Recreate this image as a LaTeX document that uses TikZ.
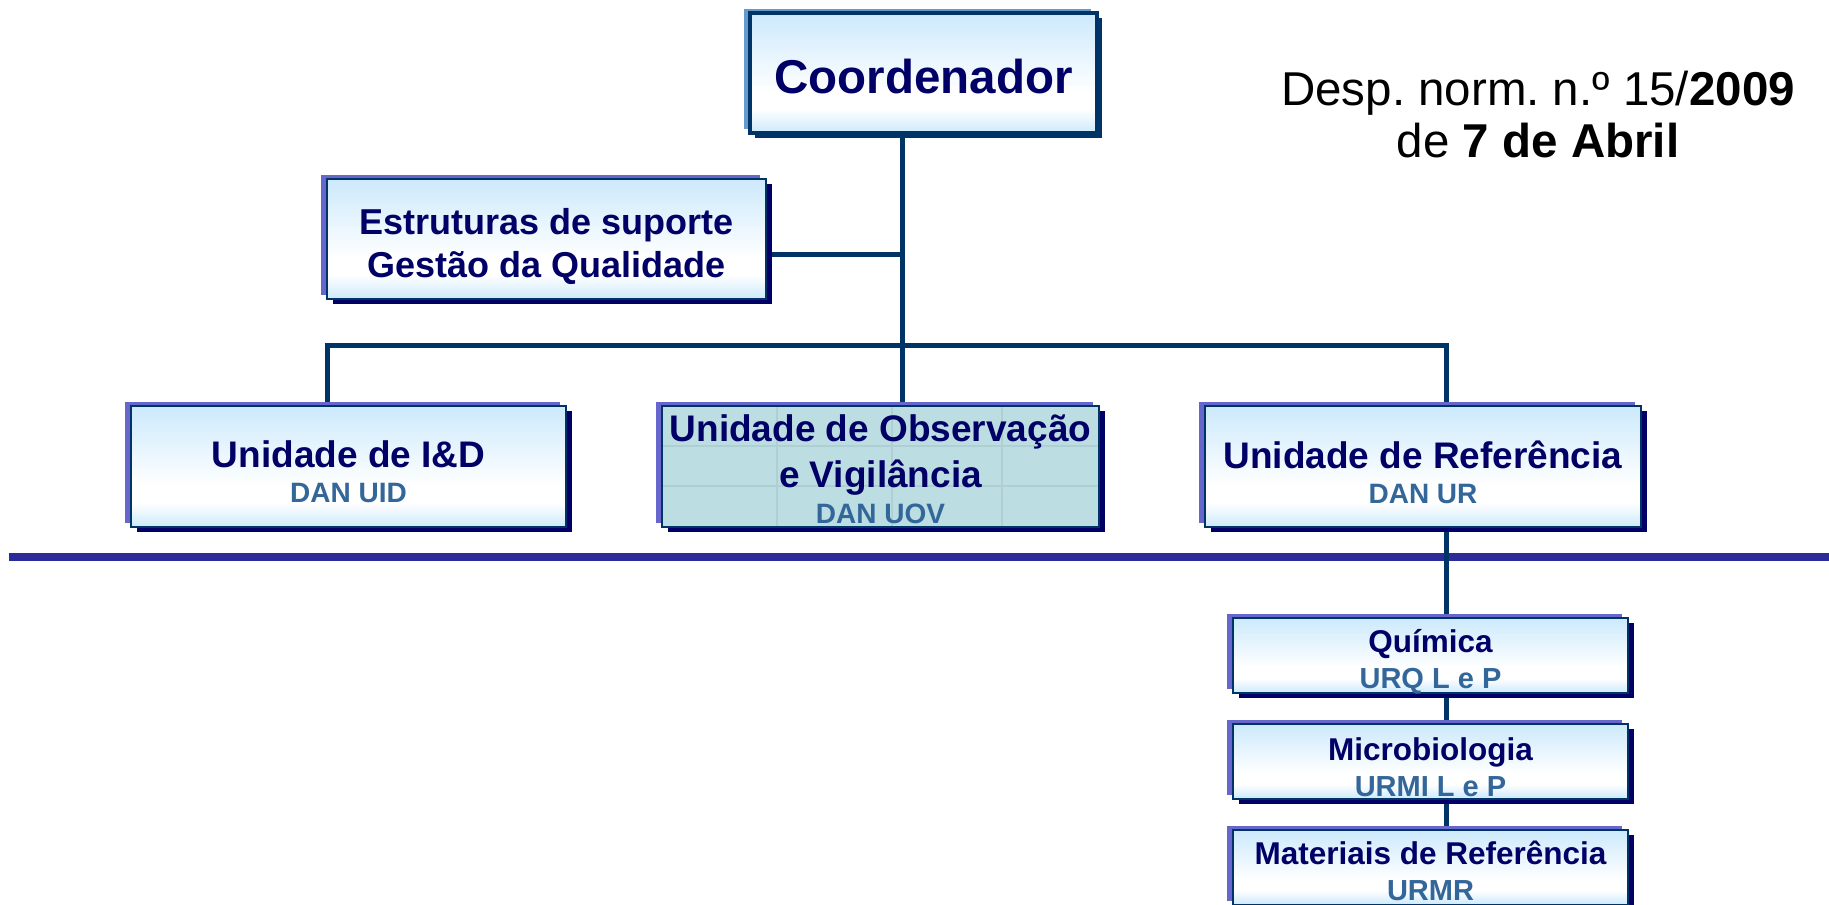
\documentclass[tikz,border=0pt]{standalone}
\usepackage{fontspec}
\setmainfont{Liberation Sans}
\usetikzlibrary{shadows}
\pgfdeclarelayer{background}
\pgfsetlayers{background,main}
\definecolor{navytxt}{HTML}{000066}
\definecolor{subtxt}{HTML}{336699}
\definecolor{lineblue}{HTML}{003366}
\definecolor{busblue}{HTML}{2B2B99}
\definecolor{edgepurple}{HTML}{6666CC}
\definecolor{edgesteel}{HTML}{6699CC}
\definecolor{shadownavy}{HTML}{000066}
\definecolor{lightblue}{HTML}{CCE9FC}
\definecolor{uovfill}{HTML}{BCDDE1}
\definecolor{uovline}{HTML}{B0CFD3}
\pgfdeclareverticalshading{boxshade}{100bp}{color(0bp)=(lightblue); color(25bp)=(lightblue); color(35bp)=(white); color(42bp)=(white); color(75bp)=(lightblue); color(100bp)=(lightblue)}
\newcommand\bxT[3]{\raisebox{-#1pt}[\height][\depth]{\fontsize{#2}{#2}\selectfont\color{navytxt}#3}}
\newcommand\bxS[3]{\raisebox{-#1pt}[\height][\depth]{\fontsize{#2}{#2}\selectfont\color{subtxt}#3}}
\tikzset{
  boxbase/.style={draw=lineblue, line width=2pt, inner sep=0pt, align=center,
    general shadow={shadow xshift=-6pt, shadow yshift=4pt, fill=edgepurple, draw=none},
    general shadow={shadow xshift=6pt, shadow yshift=-5pt, fill=shadownavy, draw=none}},
  gradbox/.style={boxbase, shade, shading=boxshade},
  texbox/.style={boxbase, fill=uovfill},
  topbox/.style={draw=lineblue, line width=3.5pt, shade, shading=boxshade, inner sep=0pt, align=center,
    general shadow={shadow xshift=-6pt, shadow yshift=4pt, fill=edgesteel, draw=none},
    general shadow={shadow xshift=5pt, shadow yshift=-5pt, fill=lineblue, draw=none}},
  lsp/.style={font=\bfseries\fontsize{20}{#1}\selectfont},
  conn/.style={draw=lineblue, line width=5pt},
  bigline/.style={draw=busblue, line width=8pt},
  texline/.style={draw=uovline, line width=1.2pt},
}
\frenchspacing
\begin{document}
\begin{tikzpicture}[x=1pt,y=-1pt]
\useasboundingbox (0,0) rectangle (1829,905);
% boxes
\node[topbox, lsp=50, minimum width=347pt, minimum height=120pt] (coord) at (923.5,73)
  {\bxT{4}{47.5}{Coordenador}};
\node[gradbox, lsp=43, minimum width=439pt, minimum height=120pt] (estr) at (546.5,239)
  {\bxT{7}{36}{Estruturas de suporte}\\ \bxT{7}{36}{Gestão da Qualidade}};
\node[gradbox, lsp=36, minimum width=435pt, minimum height=121pt] (iid) at (348.5,466.5)
  {\bxT{6}{37}{Unidade de I\&D}\\ \bxS{5}{28}{DAN UID}};
\node[texbox, lsp=37, minimum width=437pt, minimum height=121pt,
  path picture={
    \draw[texline] ([yshift=-40pt]path picture bounding box.north west) -- ([yshift=-40pt]path picture bounding box.north east);
    \draw[texline] ([yshift=-80pt]path picture bounding box.north west) -- ([yshift=-80pt]path picture bounding box.north east);
    \draw[texline] ([xshift=115pt]path picture bounding box.north west) -- ([xshift=115pt]path picture bounding box.south west);
    \draw[texline] ([xshift=230pt]path picture bounding box.north west) -- ([xshift=230pt]path picture bounding box.south west);
    \draw[texline] ([xshift=340pt]path picture bounding box.north west) -- ([xshift=340pt]path picture bounding box.south west);
  }] (uov) at (880.5,466.5)
  {\bxT{3.5}{37}{Unidade de Observação}\\[10pt] \bxT{3}{37}{e Vigilância}\\ \bxS{2}{28}{DAN UOV}};
\node[gradbox, lsp=36, minimum width=436pt, minimum height=121pt] (ur) at (1423,466.5)
  {\bxT{6}{37}{Unidade de Referência}\\ \bxS{5}{28}{DAN UR}};
\node[gradbox, lsp=36, minimum width=395pt, minimum height=75pt] (qui) at (1430.5,655.5)
  {\bxT{6}{31.5}{Química}\\ \bxS{6}{29}{URQ L e P}};
\node[gradbox, lsp=36, minimum width=395pt, minimum height=75pt] (mic) at (1430.5,761.5)
  {\bxT{6}{31.5}{Microbiologia}\\ \bxS{6}{29}{URMI L e P}};
\node[gradbox, lsp=36, minimum width=395pt, minimum height=75pt] (mat) at (1430.5,867.5)
  {\bxT{3}{31.5}{Materiais de Referência}\\ \bxS{3}{29}{URMR}};
% decree text
\node[align=center, inner sep=0pt, font=\fontsize{47.5}{52}\selectfont] (desp) at (1538,115)
  {\fontsize{47.5}{47.5}\selectfont Desp. norm. n.º 15/\textbf{2009}\\ \fontsize{47.5}{47.5}\selectfont de \textbf{7 de Abril}};
% connectors and separator, behind the boxes
\coordinate (hl) at (9,557);
\coordinate (hr) at (1829,557);
\coordinate (busC) at (902,345);
\coordinate (busL) at (327,345);
\coordinate (busR) at (1446,345);
\coordinate (ej) at (902,254);
\begin{pgfonlayer}{background}
\draw[bigline] (hl) -- (hr);
\draw[conn] (coord.south -| busC) -- (uov.north -| busC);
\draw[conn] (ej -| estr.east) -- (ej);
\draw[conn] ([xshift=-2.5pt]busL) -- ([xshift=2.5pt]busR);
\draw[conn] (busL) -- (iid.north -| busL);
\draw[conn] (busR) -- (ur.north -| busR);
\draw[conn] (ur.south -| busR) -- (qui.north -| busR);
\draw[conn] (qui.south -| busR) -- (mic.north -| busR);
\draw[conn] (mic.south -| busR) -- (mat.north -| busR);
\end{pgfonlayer}
\end{tikzpicture}
\end{document}
